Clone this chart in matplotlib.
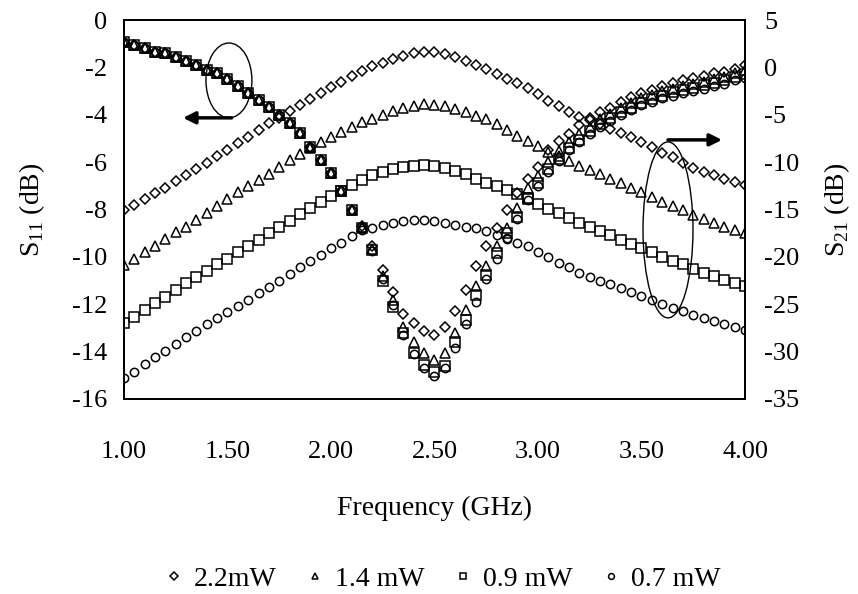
import numpy as np
import matplotlib
matplotlib.use('Agg')
import matplotlib.pyplot as plt
from matplotlib.patches import Ellipse

plt.rcParams['font.family'] = ['Liberation Serif', 'DejaVu Serif']
plt.rcParams['mathtext.fontset'] = 'custom'
plt.rcParams['mathtext.rm'] = 'Liberation Serif'
plt.rcParams['axes.unicode_minus'] = False

# frequency grid, one sample every 50 MHz
freq = np.linspace(1.0, 4.0, 61)

labels = ['2.2mW', '1.4 mW', '0.9 mW', '0.7 mW']
markers = ['D', '^', 's', 'o']

# S11 (left axis, dB)
s11_22 = [-0.93, -1.05, -1.18, -1.33, -1.40, -1.55, -1.75, -1.90, -2.10, -2.25,
          -2.50, -2.80, -3.08, -3.38, -3.68, -4.00, -4.35, -4.78, -5.35, -5.90,
          -6.45, -7.20, -8.00, -8.70, -9.55, -10.55, -11.50, -12.40, -12.80, -13.15,
          -13.30, -12.95, -12.30, -11.40, -10.40, -9.55, -8.80, -8.00, -7.30, -6.70,
          -6.20, -5.50, -5.10, -4.80, -4.45, -4.15, -3.90, -3.70, -3.45, -3.25,
          -3.10, -2.95, -2.80, -2.65, -2.55, -2.45, -2.35, -2.25, -2.20, -2.05, -1.90]
s11_14 = [-0.93, -1.05, -1.18, -1.33, -1.40, -1.55, -1.75, -1.90, -2.10, -2.25,
          -2.50, -2.80, -3.08, -3.38, -3.68, -4.00, -4.35, -4.78, -5.35, -5.90,
          -6.45, -7.20, -8.00, -8.75, -9.65, -10.80, -11.80, -12.95, -13.60, -14.05,
          -14.35, -14.05, -13.20, -12.25, -11.25, -10.40, -9.55, -8.80, -7.95, -7.10,
          -6.60, -6.00, -5.55, -5.15, -4.80, -4.50, -4.20, -3.95, -3.70, -3.50,
          -3.30, -3.15, -3.00, -2.90, -2.80, -2.70, -2.60, -2.50, -2.40, -2.25, -2.10]
s11_09 = [-0.93, -1.05, -1.18, -1.33, -1.40, -1.55, -1.75, -1.90, -2.10, -2.25,
          -2.50, -2.80, -3.08, -3.38, -3.68, -4.00, -4.35, -4.78, -5.35, -5.90,
          -6.45, -7.20, -8.00, -8.80, -9.70, -11.00, -12.10, -13.20, -14.05, -14.55,
          -14.85, -14.60, -13.60, -12.65, -11.60, -10.75, -9.85, -9.00, -8.30, -7.50,
          -6.90, -6.30, -5.85, -5.40, -5.05, -4.70, -4.40, -4.15, -3.90, -3.70,
          -3.50, -3.35, -3.20, -3.05, -2.95, -2.85, -2.75, -2.65, -2.55, -2.40, -2.30]
s11_07 = [-0.93, -1.05, -1.18, -1.33, -1.40, -1.55, -1.75, -1.90, -2.10, -2.25,
          -2.50, -2.80, -3.08, -3.38, -3.68, -4.00, -4.35, -4.78, -5.35, -5.90,
          -6.45, -7.20, -8.00, -8.80, -9.75, -10.95, -12.05, -13.30, -14.10, -14.70,
          -15.05, -14.70, -13.85, -12.85, -11.90, -10.95, -10.10, -9.20, -8.40, -7.60,
          -7.00, -6.40, -5.95, -5.50, -5.15, -4.80, -4.50, -4.25, -4.00, -3.80,
          -3.60, -3.45, -3.30, -3.20, -3.10, -3.00, -2.90, -2.80, -2.70, -2.55, -2.45]

# S21 (right axis, dB)
s21_22 = [-15.1, -14.5, -13.9, -13.3, -12.7, -12.0, -11.4, -10.7, -10.1, -9.4,
          -8.7, -8.0, -7.3, -6.6, -5.9, -5.3, -4.6, -4.0, -3.3, -2.7,
          -2.1, -1.5, -0.9, -0.4, 0.1, 0.5, 0.9, 1.2, 1.5, 1.6,
          1.6, 1.4, 1.1, 0.7, 0.3, -0.2, -0.7, -1.2, -1.6, -2.2,
          -2.8, -3.5, -4.1, -4.7, -5.2, -5.6, -6.0, -6.5, -6.9, -7.4,
          -7.9, -8.4, -9.0, -9.5, -10.1, -10.6, -11.0, -11.4, -11.8, -12.1, -12.4]
s21_14 = [-20.9, -20.2, -19.5, -18.8, -18.1, -17.4, -16.8, -16.1, -15.4, -14.6,
          -13.9, -13.2, -12.5, -11.9, -11.2, -10.5, -9.8, -9.1, -8.5, -7.9,
          -7.3, -6.8, -6.3, -5.8, -5.4, -5.0, -4.6, -4.3, -4.1, -3.9,
          -4.0, -4.1, -4.4, -4.7, -5.1, -5.5, -6.0, -6.6, -7.2, -7.8,
          -8.3, -8.9, -9.4, -9.9, -10.4, -10.8, -11.3, -11.8, -12.2, -12.7,
          -13.2, -13.7, -14.2, -14.6, -15.1, -15.6, -16.0, -16.4, -16.8, -17.2, -17.5]
s21_09 = [-27.0, -26.3, -25.6, -24.9, -24.2, -23.5, -22.8, -22.1, -21.5, -20.8,
          -20.2, -19.5, -18.9, -18.2, -17.5, -16.8, -16.2, -15.5, -14.8, -14.2,
          -13.6, -13.0, -12.4, -11.9, -11.4, -11.0, -10.7, -10.5, -10.4, -10.3,
          -10.4, -10.6, -10.9, -11.3, -11.8, -12.2, -12.5, -12.9, -13.4, -13.9,
          -14.4, -14.9, -15.4, -15.9, -16.4, -16.8, -17.3, -17.7, -18.2, -18.6,
          -19.1, -19.5, -20.0, -20.4, -20.8, -21.3, -21.7, -22.0, -22.4, -22.8, -23.1]
s21_07 = [-32.8, -32.1, -31.3, -30.6, -29.9, -29.2, -28.5, -27.8, -27.1, -26.5,
          -25.8, -25.2, -24.5, -23.8, -23.2, -22.5, -21.8, -21.1, -20.4, -19.8,
          -19.1, -18.5, -17.8, -17.2, -16.9, -16.6, -16.4, -16.2, -16.1, -16.1,
          -16.2, -16.4, -16.6, -16.8, -17.0, -17.3, -17.7, -18.1, -18.5, -18.9,
          -19.5, -20.0, -20.6, -21.1, -21.7, -22.1, -22.5, -22.9, -23.3, -23.7,
          -24.1, -24.6, -25.0, -25.4, -25.7, -26.1, -26.5, -26.8, -27.1, -27.4, -27.7]

s11_all = [s11_22, s11_14, s11_09, s11_07]
s21_all = [s21_22, s21_14, s21_09, s21_07]
msizes = [5.5, 7, 6.5, 6]

fig = plt.figure(figsize=(8.58, 5.94), dpi=100)
ax = fig.add_axes([0.1445, 0.3283, 0.7238, 0.638])
ax2 = ax.twinx()

handles = []
for s11, s21, m, ms, lab in zip(s11_all, s21_all, markers, msizes, labels):
    ax.plot(freq, s11, linestyle='none', marker=m, ms=ms, mfc='none', mec='black', mew=1.1)
    h, = ax2.plot(freq, s21, linestyle='none', marker=m, ms=ms, mfc='none', mec='black', mew=1.1, label=lab)
    handles.append(h)

ax.set_xlim(1.0, 4.0)
ax.set_ylim(-16, 0)
ax2.set_ylim(-35, 5)
ax.set_xticks([1.0, 1.5, 2.0, 2.5, 3.0, 3.5, 4.0])
ax.set_xticklabels(['%.2f' % v for v in [1.0, 1.5, 2.0, 2.5, 3.0, 3.5, 4.0]])
ax.set_yticks(np.arange(-16, 1, 2))
ax2.set_yticks(np.arange(-35, 6, 5))

ax.tick_params(axis='x', length=0, pad=30, labelsize=19)
ax.tick_params(axis='y', length=0, pad=12, labelsize=19)
ax2.tick_params(axis='y', length=0, pad=14, labelsize=19)
for a in (ax, ax2):
    for sp in a.spines.values():
        sp.set_linewidth(1.3)

ax.set_xlabel('Frequency (GHz)', fontsize=20, labelpad=24)
ax.set_ylabel(r'S$_{\mathregular{11}}$ (dB)', fontsize=20, labelpad=18)
ax2.set_ylabel(r'S$_{\mathregular{21}}$ (dB)', fontsize=20, labelpad=16)

# ellipses and arrows marking which axis each group belongs to
ax.add_patch(Ellipse((1.507, -2.55), 0.222, 3.16, fill=False, ec='black', lw=1.0))
ax.annotate('', xy=(1.285, -4.13), xytext=(1.52, -4.13),
            arrowprops=dict(arrowstyle='-|>', lw=2.5, color='black', mutation_scale=18,
                            shrinkA=0, shrinkB=0))
ax.add_patch(Ellipse((3.628, -8.86), 0.2415, 7.43, fill=False, ec='black', lw=1.0))
ax.annotate('', xy=(3.889, -5.06), xytext=(3.628, -5.06),
            arrowprops=dict(arrowstyle='-|>', lw=2.5, color='black', mutation_scale=18,
                            shrinkA=0, shrinkB=0))

fig.legend(handles=handles, labels=labels, loc='center', bbox_to_anchor=(0.515, 0.025),
           ncol=4, frameon=False, fontsize=20, markerscale=0.7, handlelength=0.8,
           handletextpad=0.3, columnspacing=1.0)

fig.savefig('out.png', dpi=100)
